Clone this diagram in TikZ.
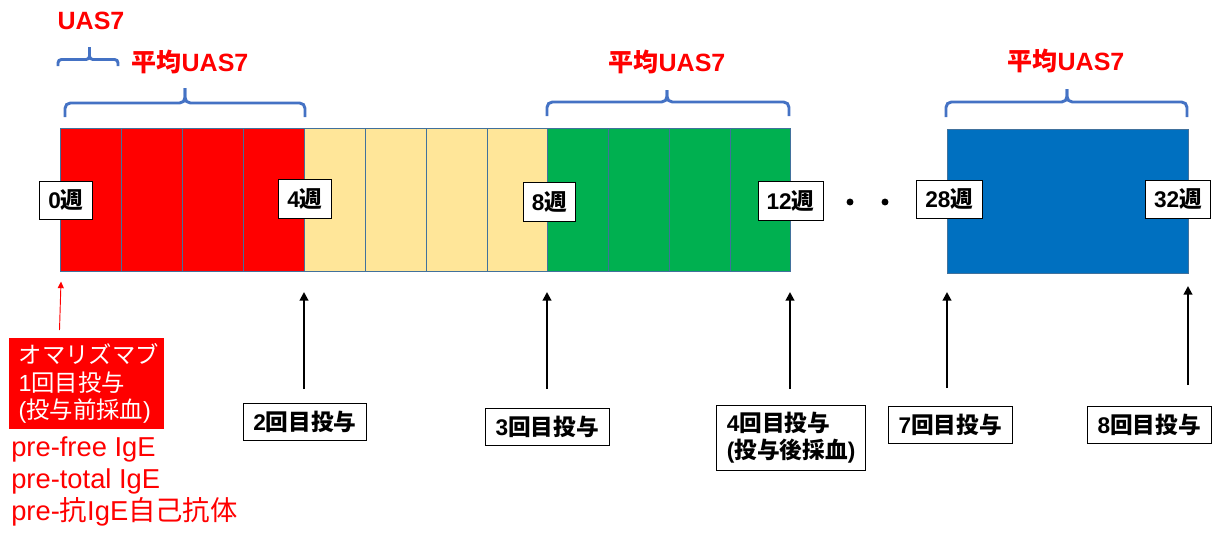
\documentclass[tikz,border=0pt]{standalone}
\usepackage{fontspec}
\setmainfont{Liberation Sans}
\newfontfamily\cjk{Noto Sans CJK JP}
\usetikzlibrary{arrows.meta}
\definecolor{cred}{HTML}{FF0000}
\definecolor{cyel}{HTML}{FFE699}
\definecolor{cgrn}{HTML}{00B050}
\definecolor{cblu}{HTML}{0070C0}
\definecolor{cbrace}{HTML}{4472C4}
\definecolor{cedge}{HTML}{41719C}
\newcommand\J[1]{{\cjk #1}}
\begin{document}
\begin{tikzpicture}[x=0.75pt,y=-0.75pt,
  cell/.style={draw=cedge, line width=0.6pt},
  wk/.style={draw=black, fill=white, line width=0.6pt, font=\bfseries\fontsize{17}{20}\selectfont, minimum height=29pt, inner xsep=6.5pt},
  dose/.style={draw=black, fill=white, line width=0.6pt, font=\bfseries\fontsize{17}{20.5}\selectfont, minimum height=27.75pt, minimum width=92.5pt},
  brc/.style={draw=cbrace, line width=2.2pt, rounded corners=4pt},
  lab/.style={text=cred, font=\bfseries\fontsize{18.75}{22}\selectfont, inner sep=0pt},
  redtxt/.style={text=cred, font=\fontsize{20.5}{24}\selectfont, inner sep=0pt, anchor=base west},
  arr/.style={line width=1.5pt, -{Triangle[width=6.5pt,length=6.5pt]}},
  ]
\useasboundingbox (0,0) rectangle (1214,536);

% bar cells
\foreach \a/\b/\c in {60/121/cred,121/182/cred,182/243/cred,243/304/cred,
                      304/365/cyel,365/426/cyel,426/487/cyel,487/547/cyel,
                      547/608/cgrn,608/669/cgrn,669/730/cgrn,730/790/cgrn}
  \filldraw[cell, fill=\c] (\a,128) rectangle (\b,271);
\filldraw[cell, fill=cblu] (947,129) rectangle (1188,273);

% week labels
\node[wk] (w0)  at (66,200.5)  {0\J{週}};
\node[wk] (w4)  at (305,199)   {4\J{週}};
\node[wk] (w8)  at (549.5,201.7) {8\J{週}};
\node[wk] (w12) at (790.5,201) {12\J{週}};
\node[wk] (w28) at (949.3,199.3) {28\J{週}};
\node[wk] (w32) at (1178,199.3) {32\J{週}};

% dots
\fill (850,202) circle (2.6pt);
\fill (885,202) circle (2.6pt);

% braces
\draw[brc, rounded corners=2.5pt] (58,66) -- (58,59.5) -- (89.5,59.5) -- (89.5,47);
\draw[brc, rounded corners=2.5pt] (89.5,47) -- (89.5,59.5) -- (118,59.5) -- (118,66);
\draw[brc] (65,117) -- (65,103) -- (185,103) -- (185,88);
\draw[brc] (185,88) -- (185,103) -- (305,103) -- (305,117);
\draw[brc] (547,116) -- (547,102) -- (667,102) -- (667,90);
\draw[brc] (667,90) -- (667,102) -- (789,102) -- (789,116);
\draw[brc] (946,117) -- (946,102) -- (1067,102) -- (1067,89);
\draw[brc] (1067,89) -- (1067,102) -- (1187,102) -- (1187,117);

% labels
\node[lab] (uas)  at (91,21)   {UAS7};
\node[lab] (avg1) at (190,62)  {\J{平均}UAS7};
\node[lab] (avg2) at (667,62)  {\J{平均}UAS7};
\node[lab] (avg3) at (1066,61) {\J{平均}UAS7};

% dose boxes
\node[dose] (d2) at (305,422.2) {2\J{回目投与}};
\node[dose] (d3) at (547.3,426.7) {3\J{回目投与}};
\node[dose, minimum width=111.75pt, minimum height=48.75pt, align=left] (d4) at (791.2,437.5)
  {4\J{回目投与}\\(\J{投与後採血})};
\node[dose] (d7) at (950.3,424.7) {7\J{回目投与}};
\node[dose] (d8) at (1149.3,424.7) {8\J{回目投与}};

% arrows
\coordinate (s2) at (304,389);  \coordinate (e2) at (304,292);
\coordinate (s3) at (547,389);  \coordinate (e3) at (547,292);
\coordinate (s4) at (790,389);  \coordinate (e4) at (790,292);
\coordinate (s7) at (947,388);  \coordinate (e7) at (947,292);
\coordinate (s8) at (1188,385); \coordinate (e8) at (1188,286);
\draw[arr] (s2) -- (e2);
\draw[arr] (s3) -- (e3);
\draw[arr] (s4) -- (e4);
\draw[arr] (s7) -- (e7);
\draw[arr] (s8) -- (e8);

% first dose
\coordinate (s1) at (59.5,330); \coordinate (e1) at (61,281.5);
\draw[cred, line width=0.7pt, -{Triangle[width=4.5pt,length=5pt]}] (s1) -- (e1);
\node[fill=cred, text=white, minimum width=116.25pt, minimum height=68.5pt,
      inner xsep=7.5pt, text width=101pt, align=left,
      font=\fontsize{17.5}{20.6}\selectfont] (d1) at (86,383.8)
  {\J{オマリズマブ}\\1\J{回目投与}\\(\J{投与前採血})};
\node[redtxt] (p1) at (11,456) {pre-free IgE};
\node[redtxt] (p2) at (11,488) {pre-total IgE};
\node[redtxt] (p3) at (11,520) {pre-\J{抗}IgE\J{自己抗体}};
\end{tikzpicture}
\end{document}
